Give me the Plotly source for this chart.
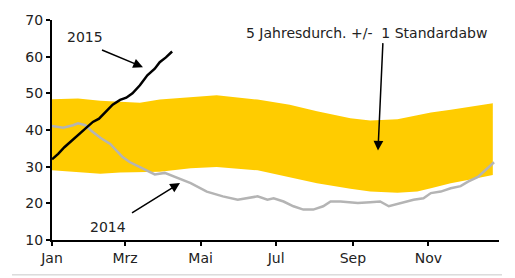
import plotly.graph_objects as go

# ---- data ----
band_dates = ["2014-01-01", "2014-01-22", "2014-02-09", "2014-02-25", "2014-03-13", "2014-03-29",
              "2014-04-23", "2014-05-14", "2014-06-16", "2014-07-12", "2014-08-03", "2014-08-30",
              "2014-09-15", "2014-10-07", "2014-10-23", "2014-11-03", "2014-11-19", "2014-12-05",
              "2014-12-23"]
band_upper = [48.4, 48.6, 48.0, 47.8, 47.4, 48.3, 49.0, 49.5, 48.3, 46.9, 45.1, 43.2,
              42.6, 42.9, 44.0, 44.8, 45.5, 46.4, 47.3]
band_lower = [29.0, 28.6, 28.1, 28.4, 28.5, 28.6, 29.6, 29.9, 29.0, 27.2, 25.5, 24.0,
              23.2, 22.9, 23.2, 24.1, 25.5, 26.5, 27.7]

dates_2014 = ["2014-01-01", "2014-01-10", "2014-01-18", "2014-01-22", "2014-01-28", "2014-02-02",
              "2014-02-09", "2014-02-17", "2014-02-27", "2014-03-05", "2014-03-13", "2014-03-25",
              "2014-04-02", "2014-04-13", "2014-04-23", "2014-05-06", "2014-05-19", "2014-05-31",
              "2014-06-06", "2014-06-16", "2014-06-24", "2014-06-29", "2014-07-07", "2014-07-15",
              "2014-07-23", "2014-07-31", "2014-08-08", "2014-08-14", "2014-08-22", "2014-09-05",
              "2014-09-15", "2014-09-23", "2014-09-30", "2014-10-09", "2014-10-20", "2014-10-28",
              "2014-11-03", "2014-11-11", "2014-11-19", "2014-11-27", "2014-12-03", "2014-12-11",
              "2014-12-19", "2014-12-24"]
values_2014 = [41.1, 40.6, 41.3, 41.8, 41.3, 39.7, 37.9, 36.2, 32.6, 31.2, 29.9, 27.9,
               28.3, 26.8, 25.5, 23.2, 21.9, 21.0, 21.4, 21.9, 21.0, 21.4, 20.5, 19.2,
               18.3, 18.3, 19.2, 20.5, 20.5, 20.1, 20.3, 20.5, 19.2, 20.1, 21.0, 21.4,
               22.8, 23.2, 24.1, 24.7, 25.9, 27.2, 29.5, 31.2]

dates_2015 = ["2014-01-01", "2014-01-06", "2014-01-11", "2014-01-17", "2014-01-23", "2014-01-29",
              "2014-02-03", "2014-02-08", "2014-02-14", "2014-02-19", "2014-02-25", "2014-03-02",
              "2014-03-07", "2014-03-13", "2014-03-19", "2014-03-25", "2014-03-29", "2014-04-03",
              "2014-04-08"]
values_2015 = [32.0, 33.5, 35.3, 37.1, 38.9, 40.6, 42.2, 43.1, 45.1, 46.9, 48.2, 48.8,
               50.0, 52.2, 54.9, 56.7, 58.5, 59.8, 61.4]

tick_dates = ["2014-01-01", "2014-03-01", "2014-05-01", "2014-07-01", "2014-09-01", "2014-11-01"]
tick_labels = ["Jan", "Mrz", "Mai", "Jul", "Sep", "Nov"]
y_ticks = [10, 20, 30, 40, 50, 60, 70]

GOLD = "#FFCC00"
FONT = "DejaVu Sans, Liberation Sans, Arial, sans-serif"
TXT = "#222222"
FS = 14

fig = go.Figure()
fig.add_trace(go.Scatter(x=band_dates, y=band_lower, mode="lines", line=dict(width=0, color=GOLD),
                         hoverinfo="skip", showlegend=False))
fig.add_trace(go.Scatter(x=band_dates, y=band_upper, mode="lines", line=dict(width=0, color=GOLD),
                         fill="tonexty", fillcolor=GOLD, showlegend=False))
fig.add_trace(go.Scatter(x=dates_2014, y=values_2014, mode="lines",
                         line=dict(color="#b4b4b4", width=2.5), showlegend=False))
fig.add_trace(go.Scatter(x=dates_2015, y=values_2015, mode="lines",
                         line=dict(color="#000000", width=2.5), showlegend=False))

# plot area in pixels: x 52..499, y 17..241
L, R, T, B = 52, 499, 17, 241
def px(x):
    return (x - L) / (R - L)
def py(y):
    return (B - y) / (B - T)

ann = []
def label(text, x, y, xanchor="center"):
    ann.append(dict(text=text, x=px(x), y=py(y), xref="paper", yref="paper", showarrow=False,
                    xanchor=xanchor, yanchor="middle", font=dict(family=FONT, size=FS, color=TXT)))
def arrow(tail, tip):
    ann.append(dict(text=" ", x=px(tip[0]), y=py(tip[1]), xref="paper", yref="paper",
                    ax=tail[0] - tip[0], ay=tail[1] - tip[1], showarrow=True,
                    arrowhead=2, arrowsize=1.3, arrowwidth=1.5, arrowcolor="#000000",
                    font=dict(size=2)))

label("2015", 85, 34)
arrow((100, 47), (143, 65))
label("2014", 108, 228)
arrow((130, 214), (180, 183))
label("5 Jahresdurch. +/-  1 Standardabw", 244, 30, xanchor="left")
arrow((383, 40), (378, 150))

fig.update_layout(
    width=515, height=278,
    margin=dict(l=L, r=515 - R, t=T, b=278 - B),
    paper_bgcolor="white", plot_bgcolor="white",
    font=dict(family=FONT, size=FS, color=TXT),
    annotations=ann,
    hovermode=False,
    shapes=[dict(type="line", xref="paper", yref="paper",
                 x0=px(12), x1=px(502), y0=py(276.5), y1=py(276.5),
                 line=dict(color="#c8c8c8", width=1))],
    xaxis=dict(type="date", range=["2014-01-01", "2014-12-28"],
               tickvals=tick_dates, ticktext=tick_labels,
               showgrid=False, zeroline=False, showline=True, linecolor="#000000", linewidth=2,
               ticks="outside", ticklen=4, tickwidth=1.5, tickcolor="#000000",
               tickfont=dict(family=FONT, size=FS, color=TXT)),
    yaxis=dict(range=[10, 70], tickvals=y_ticks,
               showgrid=False, zeroline=False, showline=True, linecolor="#000000", linewidth=2,
               ticks="outside", ticklen=4, tickwidth=1.5, tickcolor="#000000",
               tickfont=dict(family=FONT, size=FS, color=TXT)),
)

fig.write_html("out.html", config={"displayModeBar": False},
               post_script="document.body.style.margin='0';")
